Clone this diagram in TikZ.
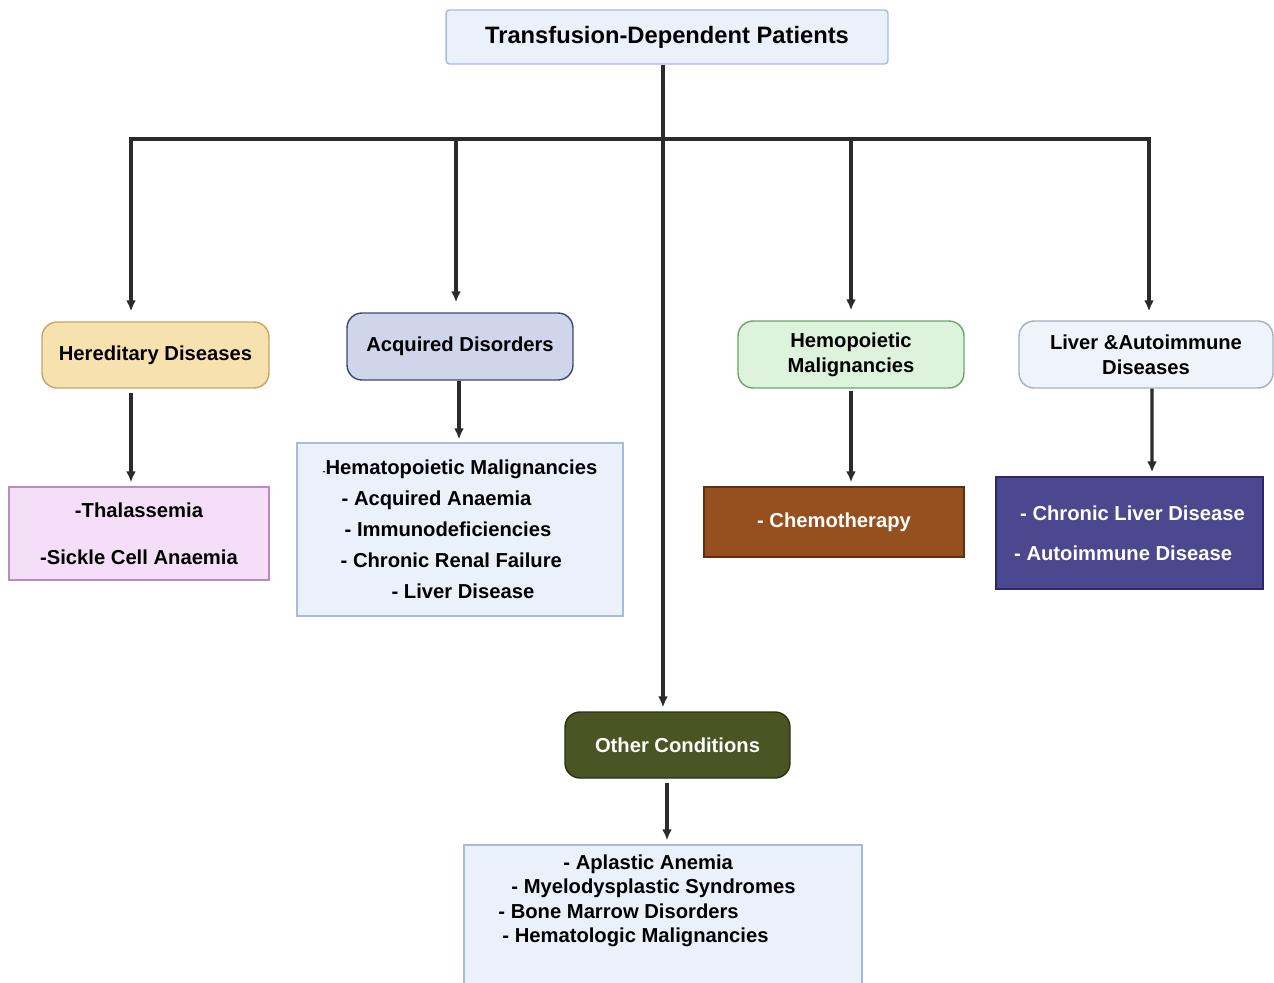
\documentclass[tikz,border=0pt]{standalone}
\usepackage{fontspec}
\setmainfont{Liberation Sans}
\usepackage{tikz}
\usetikzlibrary{arrows.meta, positioning, calc}
\definecolor{topfill}{HTML}{EAF1FB}
\definecolor{topline}{HTML}{A7BBDD}
\definecolor{heredfill}{HTML}{F7E1AE}
\definecolor{heredline}{HTML}{C7A465}
\definecolor{acqfill}{HTML}{CFD6EB}
\definecolor{acqline}{HTML}{3B4874}
\definecolor{hemofill}{HTML}{DDF3DB}
\definecolor{hemoline}{HTML}{6AA765}
\definecolor{liverfill}{HTML}{EFF3FA}
\definecolor{liverline}{HTML}{A3AFC4}
\definecolor{thalfill}{HTML}{F4DEF8}
\definecolor{thalline}{HTML}{B98BC4}
\definecolor{chemofill}{HTML}{964F1E}
\definecolor{chemoline}{HTML}{5C3010}
\definecolor{autofill}{HTML}{4B4890}
\definecolor{autoline}{HTML}{2B296B}
\definecolor{otherfill}{HTML}{4B5523}
\definecolor{otherline}{HTML}{283010}
\definecolor{wire}{HTML}{2B2B2B}
\tikzset{
	catbox/.style={
		draw,
		rounded corners=0.3cm,
		line width=0.8pt,
		inner sep=0pt,
		align=center,
		font=\bfseries\fontsize{11.5}{14.2}\selectfont
	},
	listbox/.style={
		draw,
		line width=0.8pt,
		inner sep=0pt,
		align=center,
		font=\bfseries\fontsize{11.5}{14.2}\selectfont
	},
	arrow/.style={
		-{Latex[length=2.2mm, width=2mm]},
		line width=1.9pt,
		draw=wire
	}
}

\begin{document}
\begin{tikzpicture}[x=0.02cm, y=-0.02cm]
		\useasboundingbox (0,0) rectangle (1274,983);
		% Style du tronc
		\tikzstyle{trunk}=[line width=2.3pt, draw=wire]
		
		% La box du haut
		\node[listbox, rounded corners=2pt, fill=topfill, draw=topline, minimum width=8.84cm, minimum height=1.08cm, font=\bfseries\fontsize{13.5}{16}\selectfont] (top) at (667,37) {Transfusion-Dependent Patients};
		
		%--- Catégories ---
		\node[catbox, fill=heredfill, draw=heredline, minimum width=4.54cm, minimum height=1.32cm] (hered) at (155.5,355) {Hereditary Diseases};
		\node[catbox, fill=acqfill, draw=acqline, minimum width=4.52cm, minimum height=1.34cm] (acq) at (460,346.5) {Acquired Disorders};
		\node[catbox, fill=hemofill, draw=hemoline, minimum width=4.52cm, minimum height=1.34cm] (hemo) at (851,354.5) {Hemopoietic\\Malignancies};
		\node[catbox, fill=liverfill, draw=liverline, minimum width=5.08cm, minimum height=1.34cm] (liver) at (1146,354.5) {Liver \&Autoimmune\\Diseases};
		\node[catbox, fill=otherfill, draw=otherline, text=white, minimum width=4.5cm, minimum height=1.32cm] (other) at (677.5,745) {Other Conditions};
		
		%--- Listes ---
		\node[listbox, fill=thalfill, draw=thalline, minimum width=5.2cm, minimum height=1.86cm, font=\bfseries\fontsize{11.5}{27}\selectfont] (thal) at (139,533.5) {-Thalassemia\\-Sickle Cell Anaemia};
		\node[listbox, fill=topfill, draw=topline, minimum width=6.52cm, minimum height=3.46cm, align=left, font=\bfseries\fontsize{11.5}{17.6}\selectfont] (acqlist) at (460,529.5)
			{{\tiny-}Hematopoietic Malignancies\\
			\hspace*{0.38cm}- Acquired Anaemia\\
			\hspace*{0.44cm}- Immunodeficiencies\\
			\hspace*{0.36cm}- Chronic Renal Failure\\
			\hspace*{1.38cm}- Liver Disease};
		\node[listbox, fill=chemofill, draw=chemoline, text=white, minimum width=5.2cm, minimum height=1.4cm] (chemo) at (834,522) {- Chemotherapy};
		\node[listbox, fill=autofill, draw=autoline, text=white, minimum width=5.34cm, minimum height=2.24cm, align=left, font=\bfseries\fontsize{11.5}{22.7}\selectfont] (autolist) at (1129.5,533)
			{\hspace*{0.12cm}- Chronic Liver Disease\\- Autoimmune Disease};
		\node[listbox, fill=topfill, draw=topline, minimum width=7.96cm, minimum height=2.8cm] (otherlist) at (663,915) {};
		\node[align=left, inner sep=0pt, font=\bfseries\fontsize{11.5}{13.9}\selectfont] (othertxt) at (647,901)
			{\hspace*{1.3cm}- Aplastic Anemia\\
			\hspace*{0.26cm}- Myelodysplastic Syndromes\\
			- Bone Marrow Disorders\\
			\hspace*{0.08cm}- Hematologic Malignancies};
		
		%--- Tronc et barre ---
		\coordinate (hub) at (663,139);
		\coordinate (barL) at (131,139);
		\coordinate (barA) at (456,139);
		\coordinate (barH) at (851,139);
		\coordinate (barR) at (1149,139);
		\draw[trunk] (top.south -| hub) -- (hub);
		\draw[trunk, line cap=rect] (barL) -- (barR);
		\draw[arrow, line width=2.3pt, shorten >=0.08cm] (hub) -- (other.north -| hub);
		
		%--- Descentes vers les catégories ---
		\draw[arrow, shorten >=0.2cm] (barL) -- (hered.north -| barL);
		\draw[arrow, shorten >=0.2cm] (barA) -- (acq.north -| barA);
		\draw[arrow, shorten >=0.2cm] (barH) -- (hemo.north -| barH);
		\draw[arrow, shorten >=0.18cm] (barR) -- (liver.north -| barR);
		
		%--- Catégories vers listes ---
		\draw[arrow, shorten <=0.08cm, shorten >=0.08cm] (hered.south -| barL) -- (thal.north -| barL);
		\draw[arrow, shorten >=0.06cm] ($(acq.south)+(-1,0)$) -- ($(acqlist.north)+(-1,0)$);
		\draw[arrow, shorten <=0.04cm, shorten >=0.08cm] (hemo.south -| barH) -- (chemo.north -| barH);
		\draw[arrow, shorten >=0.08cm] ($(liver.south)+(6,0)$) -- ($(autolist.north)+(22.5,0)$);
		\draw[arrow, shorten <=0.08cm, shorten >=0.08cm] ($(other.south)+(-10.5,0)$) -- ($(otherlist.north)+(4,0)$);
	\end{tikzpicture}
\end{document}
